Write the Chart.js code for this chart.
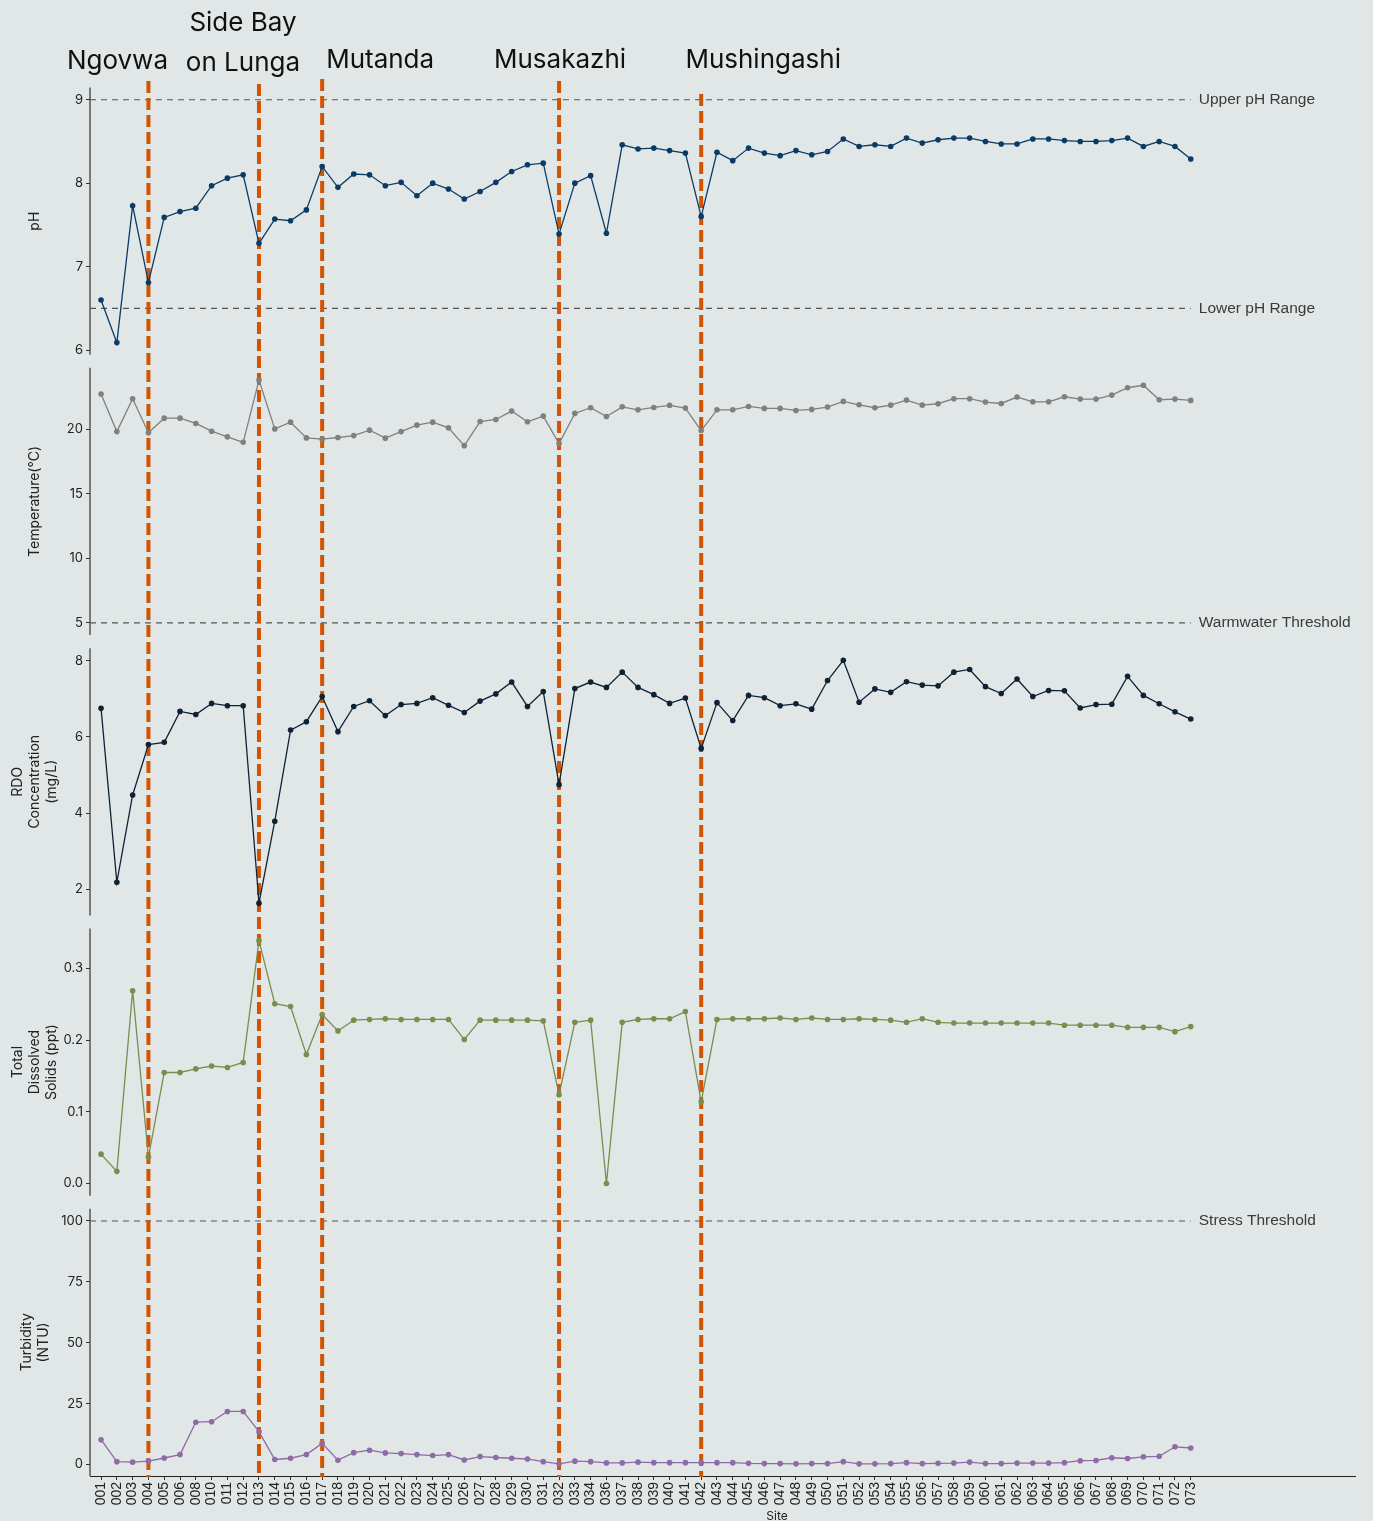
<!DOCTYPE html>
<html>
<head>
<meta charset="utf-8">
<script src="https://cdn.jsdelivr.net/npm/chart.js@4.4.1/dist/chart.umd.min.js"></script>
<style>
  html, body { margin: 0; padding: 0; background: #E1E7E7; }
</style>
</head>
<body>
<canvas id="waterChart" width="1373" height="1521"></canvas>
<script>
// Sampling sites along the river
const sites = ['001','002','003','004','005','006','008','010','011','012',
  '013','014','015','016','017','018','019','020','021','022',
  '023','024','025','026','027','028','029','030','031','032',
  '033','034','036','037','038','039','040','041','042','043',
  '044','045','046','047','048','049','050','051','052','053',
  '054','055','056','057','058','059','060','061','062','063',
  '064','065','066','067','068','069','070','071','072','073'];

const ph = [6.60, 6.09, 7.73, 6.81, 7.59, 7.66, 7.70, 7.97, 8.06, 8.10,
  7.28, 7.57, 7.55, 7.68, 8.20, 7.95, 8.11, 8.10, 7.97, 8.01,
  7.85, 8.00, 7.93, 7.81, 7.90, 8.01, 8.14, 8.22, 8.24, 7.39,
  8.00, 8.09, 7.40, 8.46, 8.41, 8.42, 8.39, 8.36, 7.60, 8.37,
  8.27, 8.42, 8.36, 8.33, 8.39, 8.34, 8.38, 8.53, 8.44, 8.46,
  8.44, 8.54, 8.48, 8.52, 8.54, 8.54, 8.50, 8.47, 8.47, 8.53,
  8.53, 8.51, 8.50, 8.50, 8.51, 8.54, 8.44, 8.50, 8.44, 8.29];

const temperature = [22.75, 19.84, 22.39, 19.75, 20.88, 20.88, 20.47, 19.87, 19.43, 19.01,
  23.84, 20.05, 20.57, 19.35, 19.25, 19.38, 19.53, 19.95, 19.33, 19.84,
  20.34, 20.57, 20.13, 18.75, 20.62, 20.78, 21.43, 20.60, 21.04, 18.91,
  21.25, 21.69, 21.01, 21.76, 21.53, 21.71, 21.87, 21.66, 19.92, 21.53,
  21.53, 21.79, 21.64, 21.64, 21.48, 21.56, 21.74, 22.18, 21.92, 21.69,
  21.89, 22.28, 21.89, 22.00, 22.39, 22.39, 22.13, 22.02, 22.52, 22.15,
  22.15, 22.54, 22.36, 22.36, 22.67, 23.24, 23.43, 22.31, 22.36, 22.26];

const rdo = [6.75, 2.19, 4.48, 5.80, 5.86, 6.67, 6.59, 6.88, 6.82, 6.82,
  1.64, 3.79, 6.18, 6.40, 7.06, 6.14, 6.80, 6.95, 6.56, 6.85,
  6.88, 7.03, 6.83, 6.64, 6.94, 7.13, 7.44, 6.80, 7.19, 4.75,
  7.27, 7.44, 7.30, 7.70, 7.30, 7.11, 6.88, 7.02, 5.70, 6.90,
  6.43, 7.09, 7.03, 6.82, 6.87, 6.73, 7.48, 8.01, 6.91, 7.26,
  7.17, 7.45, 7.36, 7.34, 7.70, 7.77, 7.32, 7.14, 7.52, 7.06,
  7.22, 7.21, 6.76, 6.85, 6.86, 7.59, 7.09, 6.87, 6.66, 6.47];

const tds = [0.041, 0.017, 0.269, 0.037, 0.155, 0.155, 0.160, 0.164, 0.162, 0.169,
  0.339, 0.251, 0.247, 0.180, 0.236, 0.213, 0.228, 0.229, 0.230, 0.229,
  0.229, 0.229, 0.229, 0.201, 0.228, 0.228, 0.228, 0.228, 0.227, 0.124,
  0.225, 0.228, 0.000, 0.225, 0.229, 0.230, 0.230, 0.240, 0.114, 0.229,
  0.230, 0.230, 0.230, 0.231, 0.229, 0.231, 0.229, 0.229, 0.230, 0.229,
  0.228, 0.225, 0.230, 0.225, 0.224, 0.224, 0.224, 0.224, 0.224, 0.224,
  0.224, 0.221, 0.221, 0.221, 0.221, 0.218, 0.218, 0.218, 0.212, 0.219];

const turbidity = [10.2, 1.2, 1.0, 1.4, 2.7, 4.1, 17.4, 17.6, 21.8, 21.8,
  13.5, 2.1, 2.6, 4.1, 8.7, 1.8, 4.9, 5.9, 4.8, 4.5,
  4.1, 3.7, 4.1, 1.9, 3.3, 2.9, 2.6, 2.3, 1.2, 0.3,
  1.4, 1.2, 0.7, 0.7, 1.0, 0.8, 0.8, 0.8, 0.8, 0.8,
  0.8, 0.5, 0.4, 0.4, 0.3, 0.4, 0.4, 1.2, 0.3, 0.3,
  0.4, 0.8, 0.4, 0.5, 0.6, 1.0, 0.4, 0.4, 0.6, 0.6,
  0.6, 0.8, 1.6, 1.7, 2.8, 2.5, 3.2, 3.4, 7.3, 6.8];

// tick labels for each panel
const phTicks = [6, 7, 8, 9];
const tempTicks = [5, 10, 15, 20];
const rdoTicks = [2, 4, 6, 8];
const tdsTicks = [0, 0.1, 0.2, 0.3];
const turbTicks = [0, 25, 50, 75, 100];

// reference lines
const phLimits = [9, 6.5];
const phLimitNames = ['Upper pH Range', 'Lower pH Range'];
const tempLimits = [5];
const tempLimitNames = ['Warmwater Threshold'];
const turbLimits = [100];
const turbLimitNames = ['Stress Threshold'];

// where each river section starts
const regionSites = ['004', '013', '017', '032', '042'];
const regionNames = [['Ngovwa'], ['Side Bay', 'on Lunga'], ['Mutanda'], ['Musakazhi'], ['Mushingashi']];

// label placement relative to the region line (style only)
const regionLabelStyle = [
  { dx: -31, y: [69] },
  { dx: -16, y: [31, 71] },
  { dx: 58, y: [68] },
  { dx: 1, y: [68] },
  { dx: 62, y: [68] }
];
const regionLineTop = [0, 3, -2, 0, 13];

const GAP = 6.5 / 265;   // space between panels, as a share of a panel

const panels = [
  { id: 'yPH', values: ph, ticks: phTicks, title: ['pH'], color: '#0B3A66', limits: phLimits, limitNames: phLimitNames },
  { id: 'yTemp', values: temperature, ticks: tempTicks, title: ['Temperature(°C)'], color: '#808080', limits: tempLimits, limitNames: tempLimitNames },
  { id: 'yRDO', values: rdo, ticks: rdoTicks, title: ['RDO', 'Concentration', '(mg/L)'], color: '#0E2236', limits: [], limitNames: [] },
  { id: 'yTDS', values: tds, ticks: tdsTicks, title: ['Total', 'Dissolved', 'Solids (ppt)'], color: '#7C8C4E', limits: [], limitNames: [], digits: 1 },
  { id: 'yTurb', values: turbidity, ticks: turbTicks, title: ['Turbidity', '(NTU)'], color: '#8E6BA6', limits: turbLimits, limitNames: turbLimitNames }
];

const scales = {
  x: {
    type: 'linear',
    min: -0.7,
    max: 79.4,
    border: { display: true, color: '#222', width: 1 },
    grid: { drawOnChartArea: false, tickLength: 4, color: '#333' },
    ticks: {
      autoSkip: false,
      minRotation: 90,
      maxRotation: 90,
      padding: 2,
      color: '#222',
      font: { family: 'Liberation Sans', size: 14 },
      callback: (v) => sites[v] ?? ''
    },
    afterBuildTicks: (s) => { s.ticks = sites.map((_, i) => ({ value: i })); },
    afterFit: (s) => { s.height = 45; }
  }
};

panels.forEach((p, k) => {
  const lo = Math.min(...p.values, ...p.limits);
  const hi = Math.max(...p.values, ...p.limits);
  const pad = (hi - lo) * 0.05;
  p.innerMin = lo - pad;
  p.innerMax = hi + pad;
  const gap = (p.innerMax - p.innerMin) * GAP;
  const last = k === panels.length - 1;
  scales[p.id] = {
    type: 'linear',
    position: 'left',
    stack: 'panels',
    stackWeight: 1 + GAP * (last ? 1 : 2),
    weight: panels.length - k,
    min: p.innerMin - (last ? 0 : gap),
    max: p.innerMax + gap,
    border: { display: false },
    grid: { drawOnChartArea: false, tickLength: 4, color: '#333' },
    ticks: {
      padding: 3,
      color: '#222',
      font: { family: 'Inter', size: 13 },
      callback: (v) => p.digits ? v.toFixed(p.digits) : v
    },
    afterBuildTicks: (s) => { s.ticks = p.ticks.map(v => ({ value: v })); },
    afterFit: (s) => { s.width = 90; }
  };
});

const datasets = panels.map(p => ({
  data: p.values.map((v, i) => ({ x: i, y: v })),
  yAxisID: p.id,
  borderColor: p.color,
  backgroundColor: p.color,
  borderWidth: 1.3,
  pointRadius: 2.8,
  pointBorderWidth: 0,
  tension: 0
}));

const annotations = {
  id: 'annotations',
  beforeDraw(chart) {
    const ctx = chart.ctx;
    ctx.save();
    ctx.fillStyle = '#E1E7E7';
    ctx.fillRect(0, 0, chart.width, chart.height);
    ctx.restore();
  },
  beforeDatasetsDraw(chart) {
    const ctx = chart.ctx;
    const area = chart.chartArea;
    const xs = chart.scales.x;
    const lastX = xs.getPixelForValue(sites.length - 1);
    ctx.save();

    panels.forEach(p => {
      const ys = chart.scales[p.id];
      const top = ys.getPixelForValue(p.innerMax);
      const bottom = ys.getPixelForValue(p.innerMin);

      // panel axis line
      ctx.strokeStyle = '#333';
      ctx.lineWidth = 1.2;
      ctx.setLineDash([]);
      ctx.beginPath();
      ctx.moveTo(area.left, top);
      ctx.lineTo(area.left, bottom);
      ctx.stroke();

      // reference lines
      p.limits.forEach((v, j) => {
        const y = ys.getPixelForValue(v);
        ctx.strokeStyle = '#555';
        ctx.lineWidth = 1.1;
        ctx.setLineDash([6, 5]);
        ctx.beginPath();
        ctx.moveTo(area.left, y);
        ctx.lineTo(lastX, y);
        ctx.stroke();
        ctx.setLineDash([]);
        ctx.fillStyle = '#3a3a3a';
        ctx.font = '15.5px "Liberation Sans"';
        ctx.textAlign = 'left';
        ctx.textBaseline = 'middle';
        ctx.fillText(p.limitNames[j], lastX + 8, y);
      });

      // axis title
      const cy = (top + bottom) / 2;
      ctx.save();
      ctx.translate(35, cy);
      ctx.rotate(-Math.PI / 2);
      ctx.fillStyle = '#222';
      ctx.font = '14px Inter';
      ctx.textAlign = 'center';
      ctx.textBaseline = 'middle';
      p.title.forEach((line, j) => {
        ctx.fillText(line, 0, (j - (p.title.length - 1) / 2) * 17);
      });
      ctx.restore();
    });

    // river section markers
    regionSites.forEach((site, k) => {
      const x = xs.getPixelForValue(sites.indexOf(site));
      ctx.strokeStyle = '#D35400';
      ctx.lineWidth = 4;
      ctx.setLineDash([12, 5]);
      ctx.beginPath();
      ctx.moveTo(x, area.top + regionLineTop[k]);
      ctx.lineTo(x, area.bottom + 1);
      ctx.stroke();
      ctx.setLineDash([]);

      const st = regionLabelStyle[k];
      ctx.fillStyle = '#111';
      ctx.font = '26px Inter';
      ctx.textAlign = 'center';
      ctx.textBaseline = 'alphabetic';
      regionNames[k].forEach((line, j) => ctx.fillText(line, x + st.dx, st.y[j]));
    });

    // x axis title
    ctx.fillStyle = '#222';
    ctx.font = '12px Inter';
    ctx.textAlign = 'center';
    ctx.textBaseline = 'middle';
    ctx.fillText('Site', area.left + 687, 1516);
    ctx.restore();
  }
};

new Chart(document.getElementById('waterChart'), {
  type: 'line',
  data: { datasets },
  options: {
    responsive: false,
    animation: false,
    layout: { padding: { top: 81, left: 0, right: 18, bottom: 0 } },
    scales,
    plugins: {
      legend: { display: false },
      tooltip: { enabled: false }
    }
  },
  plugins: [annotations]
});
</script>
</body>
</html>
